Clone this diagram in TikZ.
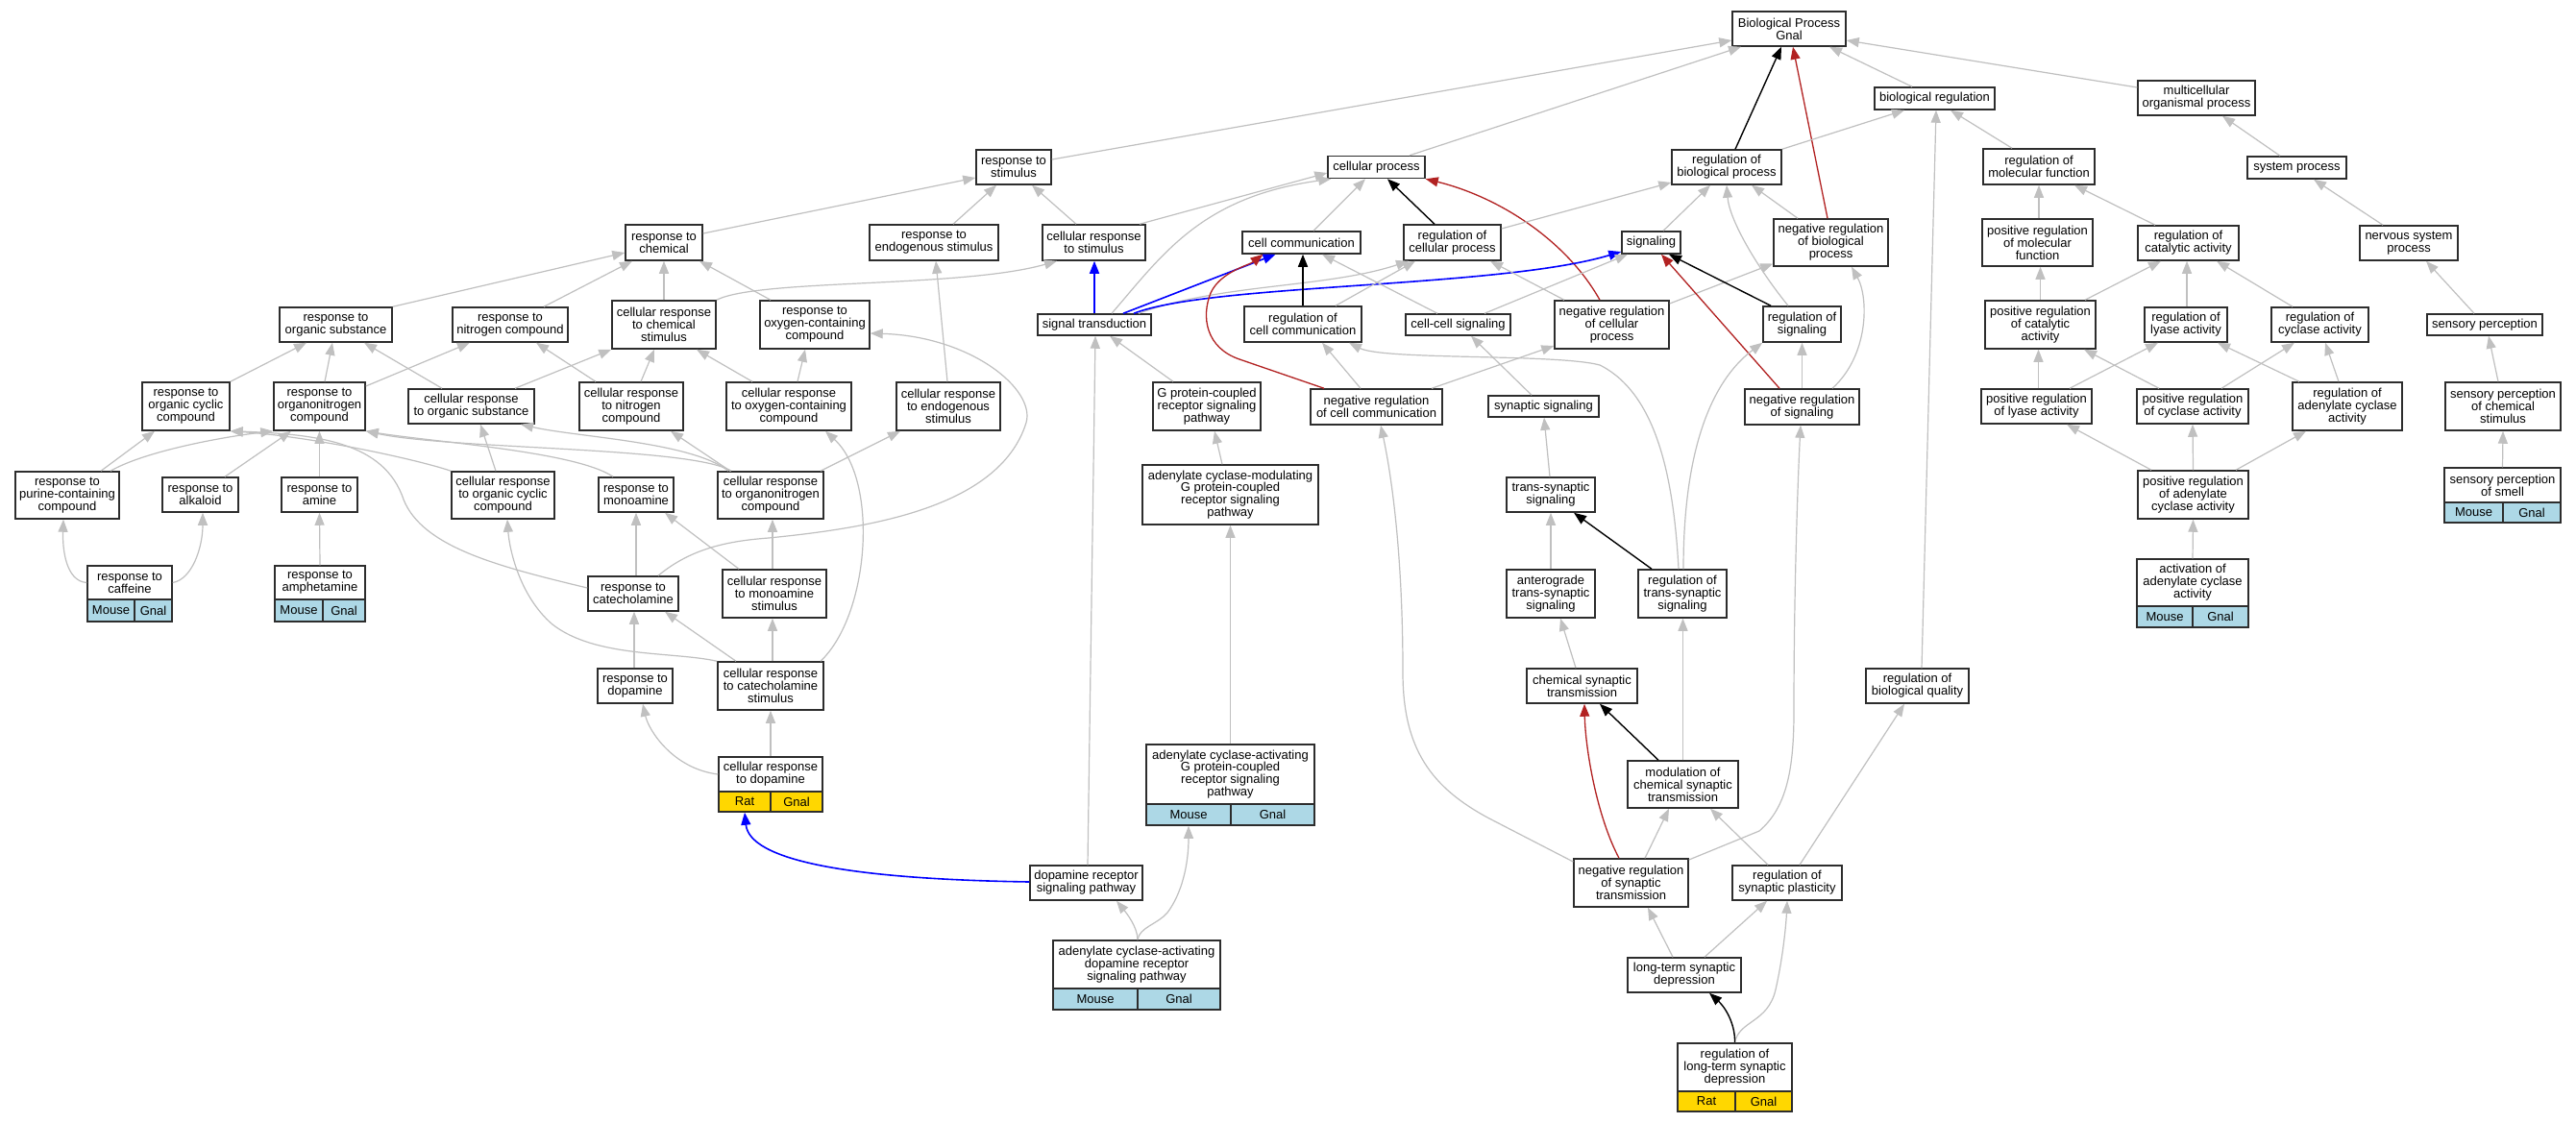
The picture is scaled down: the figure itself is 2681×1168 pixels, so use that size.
\documentclass[tikz,border=0pt]{standalone}
\usepackage{fontspec}
\setmainfont{Liberation Sans}
\usetikzlibrary{arrows.meta}
\definecolor{eg}{RGB}{192,192,192}
\definecolor{fb}{RGB}{178,34,34}
\definecolor{lb}{RGB}{173,216,230}
\definecolor{gd}{RGB}{255,215,0}
\definecolor{bd}{RGB}{45,45,45}
\begin{document}
\begin{tikzpicture}[x=1pt,y=-1pt,
 box/.style={draw=bd, line width=1.5pt, fill=white, inner sep=0pt, align=center, rectangle, font=\fontsize{13}{12.9}\selectfont},
 sp/.style={box, fill=lb},
 spy/.style={box, fill=gd},
 ed/.style={draw=eg, line width=1.2pt, -{Triangle[length=13pt,width=10pt]}},
 edk/.style={ed, draw=black, line width=1.4pt},
 edr/.style={ed, draw=fb, line width=1.3pt},
 edb/.style={ed, draw=blue, line width=1.6pt},
]
\fill[white] (0,0) rectangle (2681,1168);
\useasboundingbox (0,0) rectangle (2681,1168);

% ---------------- nodes
\node[box,minimum width=118pt,minimum height=36pt] (bp) at (1862,30) {Biological Process\\Gnal};
\node[box,minimum width=125pt,minimum height=23pt] (bioreg) at (2013.5,102.5) {biological regulation};
\node[box,minimum width=122pt,minimum height=36pt] (multi) at (2286,102) {multicellular\\organismal process};
\node[box,minimum width=78pt,minimum height=36pt] (rstim) at (1055,174) {response to\\stimulus};
\node[box,minimum width=101pt,minimum height=23pt] (cellproc) at (1432.5,174) {cellular process};
\node[box,minimum width=114pt,minimum height=36pt] (regbio) at (1797,174) {regulation of\\biological process};
\node[box,minimum width=116pt,minimum height=37pt] (regmol) at (2122,173.5) {regulation of\\molecular function};
\node[box,minimum width=103pt,minimum height=23pt] (sysproc) at (2390.5,174.5) {system process};
\node[box,minimum width=80pt,minimum height=37pt] (rchem) at (691,252.5) {response to\\chemical};
\node[box,minimum width=134pt,minimum height=37pt] (rendo) at (972,252.5) {response to\\endogenous stimulus};
\node[box,minimum width=107pt,minimum height=37pt] (crstim) at (1138.5,252.5) {cellular response\\to stimulus};
\node[box,minimum width=123pt,minimum height=23pt] (cellcomm) at (1354.5,252.5) {cell communication};
\node[box,minimum width=101pt,minimum height=37pt] (regcell) at (1511.5,252.5) {regulation of\\cellular process};
\node[box,minimum width=61pt,minimum height=23pt] (signaling) at (1718.5,252.5) {signaling};
\node[box,minimum width=119pt,minimum height=49pt] (negbio) at (1905.5,252.5) {negative regulation\\of biological\\process};
\node[box,minimum width=115pt,minimum height=49pt] (posmol) at (2120.5,252.5) {positive regulation\\of molecular\\function};
\node[box,minimum width=105pt,minimum height=36pt] (regcat) at (2277.5,253) {regulation of\\catalytic activity};
\node[box,minimum width=102pt,minimum height=36pt] (nervous) at (2507,253) {nervous system\\process};
\node[box,minimum width=117pt,minimum height=36pt] (rorgsub) at (349.5,338) {response to\\organic substance};
\node[box,minimum width=120pt,minimum height=36pt] (rnitro) at (531,338) {response to\\nitrogen compound};
\node[box,minimum width=108pt,minimum height=50pt] (crchem) at (691,338) {cellular response\\to chemical\\stimulus};
\node[box,minimum width=114pt,minimum height=50pt] (roxy) at (848,338) {response to\\oxygen-containing\\compound};
\node[box,minimum width=118pt,minimum height=22pt] (sigtrans) at (1139,338) {signal transduction};
\node[box,minimum width=122pt,minimum height=37pt] (regcellcomm) at (1356,337.5) {regulation of\\cell communication};
\node[box,minimum width=109pt,minimum height=22pt] (cellcell) at (1517.5,338) {cell-cell signaling};
\node[box,minimum width=119pt,minimum height=50pt] (negcell) at (1677.5,338) {negative regulation\\of cellular\\process};
\node[box,minimum width=81pt,minimum height=37pt] (regsig) at (1875.5,337.5) {regulation of\\signaling};
\node[box,minimum width=115pt,minimum height=50pt] (poscat) at (2123.5,338) {positive regulation\\of catalytic\\activity};
\node[box,minimum width=86pt,minimum height=36pt] (reglyase) at (2275,338) {regulation of\\lyase activity};
\node[box,minimum width=101pt,minimum height=36pt] (regcyc) at (2414.5,338) {regulation of\\cyclase activity};
\node[box,minimum width=120pt,minimum height=22pt] (sensory) at (2586,338) {sensory perception};
\node[box,minimum width=91pt,minimum height=50pt] (rorgcyc) at (193.5,423) {response to\\organic cyclic\\compound};
\node[box,minimum width=95pt,minimum height=50pt] (rorgnit) at (332.5,423) {response to\\organonitrogen\\compound};
\node[box,minimum width=131pt,minimum height=36pt] (crorgsub) at (490.5,423) {cellular response\\to organic substance};
\node[box,minimum width=108pt,minimum height=50pt] (crnitro) at (657,423) {cellular response\\to nitrogen\\compound};
\node[box,minimum width=130pt,minimum height=50pt] (croxy) at (821,423) {cellular response\\to oxygen-containing\\compound};
\node[box,minimum width=108pt,minimum height=50pt] (crendo) at (987,423) {cellular response\\to endogenous\\stimulus};
\node[box,minimum width=112pt,minimum height=50pt] (gpcr) at (1256,423) {G protein-coupled\\receptor signaling\\pathway};
\node[box,minimum width=137pt,minimum height=37pt] (negcellcomm) at (1432.5,423.5) {negative regulation\\of cell communication};
\node[box,minimum width=115pt,minimum height=22pt] (synsig) at (1606.5,423) {synaptic signaling};
\node[box,minimum width=119pt,minimum height=37pt] (negsig) at (1875.5,423.5) {negative regulation\\of signaling};
\node[box,minimum width=115pt,minimum height=36pt] (poslyase) at (2119.5,423) {positive regulation\\of lyase activity};
\node[box,minimum width=116pt,minimum height=36pt] (poscyc) at (2282,423) {positive regulation\\of cyclase activity};
\node[box,minimum width=114pt,minimum height=50pt] (regadcyc) at (2443,423) {regulation of\\adenylate cyclase\\activity};
\node[box,minimum width=120pt,minimum height=50pt] (senschem) at (2605,423) {sensory perception\\of chemical\\stimulus};
\node[box,minimum width=108pt,minimum height=49pt] (rpurine) at (70,515.5) {response to\\purine-containing\\compound};
\node[box,minimum width=79pt,minimum height=36pt] (ralk) at (208.5,515) {response to\\alkaloid};
\node[box,minimum width=79pt,minimum height=36pt] (ramine) at (332.5,515) {response to\\amine};
\node[box,minimum width=107pt,minimum height=49pt] (crorgcyc) at (523.5,515.5) {cellular response\\to organic cyclic\\compound};
\node[box,minimum width=78pt,minimum height=36pt] (rmono) at (662,515) {response to\\monoamine};
\node[box,minimum width=110pt,minimum height=49pt] (crorgnit) at (802,515.5) {cellular response\\to organonitrogen\\compound};
\node[box,minimum width=183pt,minimum height=62pt] (acmod) at (1280.5,515) {adenylate cyclase-modulating\\G protein-coupled\\receptor signaling\\pathway};
\node[box,minimum width=92pt,minimum height=36pt] (transsyn) at (1614,515) {trans-synaptic\\signaling};
\node[box,minimum width=115pt,minimum height=50pt] (posadcyc) at (2282.5,515) {positive regulation\\of adenylate\\cyclase activity};
\node[box,minimum width=94pt,minimum height=36pt] (rcatech) at (659,618) {response to\\catecholamine};
\node[box,minimum width=108pt,minimum height=50pt] (crmono) at (806,618) {cellular response\\to monoamine\\stimulus};
\node[box,minimum width=92pt,minimum height=50pt] (antero) at (1614,618) {anterograde\\trans-synaptic\\signaling};
\node[box,minimum width=92pt,minimum height=50pt] (regtrans) at (1751,618) {regulation of\\trans-synaptic\\signaling};
\node[box,minimum width=78pt,minimum height=36pt] (rdopa) at (661,714) {response to\\dopamine};
\node[box,minimum width=110pt,minimum height=50pt] (crcatech) at (802,714) {cellular response\\to catecholamine\\stimulus};
\node[box,minimum width=115pt,minimum height=36pt] (chemsyn) at (1646.5,714) {chemical synaptic\\transmission};
\node[box,minimum width=107pt,minimum height=36pt] (regqual) at (1995.5,714) {regulation of\\biological quality};
\node[box,minimum width=115pt,minimum height=49pt] (modchem) at (1751.5,816.5) {modulation of\\chemical synaptic\\transmission};
\node[box,minimum width=117pt,minimum height=36pt] (drsp) at (1130.5,919) {dopamine receptor\\signaling pathway};
\node[box,minimum width=119pt,minimum height=50pt] (negsyn) at (1697.5,919) {negative regulation\\of synaptic\\transmission};
\node[box,minimum width=114pt,minimum height=36pt] (regplast) at (1860,919) {regulation of\\synaptic plasticity};
\node[box,minimum width=118pt,minimum height=36pt] (ltd) at (1753,1015) {long-term synaptic\\depression};

% annotated terms
\node[box,minimum width=121pt,minimum height=36pt] (smell) at (2604.5,505) {sensory perception\\of smell};
\node[sp,minimum width=61pt,minimum height=21pt] (smell-m) at (2574.5,533.5) {Mouse};
\node[sp,minimum width=60pt,minimum height=21pt] (smell-g) at (2635,533.5) {Gnal};

\node[box,minimum width=88pt,minimum height=35pt] (caf) at (135,606.5) {response to\\caffeine};
\node[sp,minimum width=49pt,minimum height=23pt] (caf-m) at (115.5,635.5) {Mouse};
\node[sp,minimum width=39pt,minimum height=23pt] (caf-g) at (159.5,635.5) {Gnal};

\node[box,minimum width=94pt,minimum height=35pt] (amph) at (333,606.5) {response to\\amphetamine};
\node[sp,minimum width=50pt,minimum height=23pt] (amph-m) at (311,635.5) {Mouse};
\node[sp,minimum width=44pt,minimum height=23pt] (amph-g) at (358,635.5) {Gnal};

\node[box,minimum width=116pt,minimum height=49pt] (activ) at (2282,606.5) {activation of\\adenylate cyclase\\activity};
\node[sp,minimum width=58pt,minimum height=22pt] (activ-m) at (2253,642) {Mouse};
\node[sp,minimum width=58pt,minimum height=22pt] (activ-g) at (2311,642) {Gnal};

\node[box,minimum width=108pt,minimum height=36pt] (crdopa) at (802,806) {cellular response\\to dopamine};
\node[spy,minimum width=54pt,minimum height=21pt] (crdopa-r) at (775,834.5) {Rat};
\node[spy,minimum width=54pt,minimum height=21pt] (crdopa-g) at (829,834.5) {Gnal};

\node[box,minimum width=175pt,minimum height=62pt] (acgpcr) at (1280.5,806) {adenylate cyclase-activating\\G protein-coupled\\receptor signaling\\pathway};
\node[sp,minimum width=88pt,minimum height=22pt] (acgpcr-m) at (1237,848) {Mouse};
\node[sp,minimum width=87pt,minimum height=22pt] (acgpcr-g) at (1324.5,848) {Gnal};

\node[box,minimum width=174pt,minimum height=50pt] (acdrsp) at (1183,1004) {adenylate cyclase-activating\\dopamine receptor\\signaling pathway};
\node[sp,minimum width=88pt,minimum height=22pt] (acdrsp-m) at (1140,1040) {Mouse};
\node[sp,minimum width=86pt,minimum height=22pt] (acdrsp-g) at (1227,1040) {Gnal};

\node[box,minimum width=119pt,minimum height=50pt] (regltd) at (1805.5,1111) {regulation of\\long-term synaptic\\depression};
\node[spy,minimum width=60pt,minimum height=21pt] (regltd-r) at (1776,1146.5) {Rat};
\node[spy,minimum width=59pt,minimum height=21pt] (regltd-g) at (1835.5,1146.5) {Gnal};

% ---------------- edges
\draw[ed] ([yshift=8pt]rstim.east) -- ([yshift=-12pt]bp.west);
\draw[ed] ([xshift=34.5pt]cellproc.north) -- ([xshift=-50pt]bp.south);
\draw[edk] ([xshift=9pt]regbio.north) -- ([xshift=-8pt]bp.south);
\draw[edr] ([xshift=-3.5pt]negbio.north) -- ([xshift=4pt]bp.south);
\draw[ed] ([xshift=-23.5pt]bioreg.north) -- ([xshift=42pt]bp.south);
\draw[ed] ([yshift=11pt]multi.west) -- ([yshift=-12pt]bp.east);
\draw[ed] (regbio.north east) -- ([xshift=-31.5pt]bioreg.south);
\draw[ed] ([xshift=-28pt]regmol.north) -- ([xshift=16.5pt]bioreg.south);
\draw[ed] ([xshift=4.5pt]regqual.north) -- ([xshift=1.5pt]bioreg.south);
\draw[ed] ([xshift=-17.5pt]sysproc.north) -- ([xshift=27pt]multi.south);
\draw[ed] ([xshift=-27pt]nervous.north) -- ([xshift=17.5pt]sysproc.south);
\draw[ed] ([xshift=-11pt]sensory.north) -- ([xshift=18pt]nervous.south);
\draw[ed] ([xshift=-5pt]senschem.north) -- ([xshift=4pt]sensory.south);
\draw[ed] (smell.north) -- (senschem.south);
\draw[ed] ([xshift=1.5pt]posmol.north) -- (regmol.south);
\draw[ed] ([xshift=-34.5pt]regcat.north) -- ([xshift=37pt]regmol.south);
\draw[ed] (poscat.north) -- ([xshift=3pt]posmol.south);
\draw[ed] ([xshift=46.5pt]poscat.north) -- ([xshift=-28.5pt]regcat.south);
\draw[ed] ([xshift=1pt]reglyase.north) -- ([xshift=-1.5pt]regcat.south);
\draw[ed] ([xshift=-28.5pt]regcyc.north) -- ([xshift=29.5pt]regcat.south);
\draw[ed] ([xshift=2pt]poslyase.north) -- ([xshift=-2pt]poscat.south);
\draw[ed] ([xshift=-35pt]poscyc.north) -- ([xshift=45.5pt]poscat.south);
\draw[ed] ([xshift=34.5pt]poslyase.north) -- ([xshift=-29pt]reglyase.south);
\draw[ed] ([xshift=-50pt]regadcyc.north) -- ([xshift=33pt]reglyase.south);
\draw[ed] ([xshift=30pt]poscyc.north) -- ([xshift=-26.5pt]regcyc.south);
\draw[ed] ([xshift=-9pt]regadcyc.north) -- ([xshift=5.5pt]regcyc.south);
\draw[ed] ([xshift=-43.5pt]posadcyc.north) -- ([xshift=31.5pt]poslyase.south);
\draw[ed] (posadcyc.north) -- (poscyc.south);
\draw[ed] ([xshift=44.5pt]posadcyc.north) -- ([xshift=-43pt]regadcyc.south);
\draw[ed] (activ.north) -- (posadcyc.south);

\draw[ed] ([yshift=9.5pt]rchem.east) -- ([yshift=-11pt]rstim.west);
\draw[ed] ([xshift=20pt]rendo.north) -- ([xshift=-18pt]rstim.south);
\draw[ed] ([xshift=-18.5pt]crstim.north) -- ([xshift=19pt]rstim.south);
\draw[ed] ([xshift=47.5pt]crstim.north) -- ([yshift=-6pt]cellproc.west);
\draw[ed] ([xshift=18pt]sigtrans.north) .. controls (1210,265) and (1250,205) .. ([xshift=4pt]cellproc.south west);
\draw[ed] ([xshift=12.5pt]cellcomm.north) -- ([xshift=-11.5pt]cellproc.south);
\draw[edk] ([xshift=-18.5pt]regcell.north) -- ([xshift=11.5pt]cellproc.south);
\draw[edr] ([xshift=-12.5pt]negcell.north) .. controls (1630,250) and (1560,205) .. (cellproc.south east);
\draw[ed] ([yshift=14.5pt]regcell.east) -- ([yshift=-16pt]regbio.west);
\draw[ed] ([xshift=12.5pt]signaling.north) -- ([xshift=-17pt]regbio.south);
\draw[ed] ([xshift=-14.5pt]regsig.north) .. controls (1830,280) and (1800,230) .. (regbio.south);
\draw[ed] ([xshift=-34.5pt]negbio.north) -- ([xshift=26pt]regbio.south);
\draw[ed] ([yshift=22pt]negcell.east) -- ([yshift=-22pt]negbio.west);
\draw[ed] ([xshift=31.5pt]negsig.north) .. controls (1945,370) and (1945,310) .. ([xshift=21.5pt]negbio.south);
\draw[ed] ([xshift=46pt]sigtrans.north) .. controls (1270,295) and (1380,300) .. ([xshift=-45.5pt]regcell.south);
\draw[edb] ([xshift=41pt]sigtrans.north) .. controls (1260,295) and (1560,300) .. ([yshift=-9.5pt]signaling.west);
\draw[ed] ([xshift=27.5pt]cellcell.north) -- ([xshift=-24.5pt]signaling.south);
\draw[edk] ([xshift=-32.5pt]regsig.north) -- ([xshift=18.5pt]signaling.south);
\draw[edr] ([xshift=-23.5pt]negsig.north) -- ([xshift=10.5pt]signaling.south);
\draw[edb] ([xshift=30pt]sigtrans.north) -- ([xshift=-27pt]cellcomm.south);
\draw[edk] (regcellcomm.north) -- (regcellcomm.north |- cellcomm.south);
\draw[ed] ([xshift=-21.5pt]cellcell.north) -- ([xshift=21.5pt]cellcomm.south);
\draw[edr] ([xshift=-54.5pt]negcellcomm.north) -- (1290,374) .. controls (1255,362) and (1250,330) .. (1260,305) .. controls (1270,283) and (1300,276) .. ([xshift=-40pt]cellcomm.south);
\draw[edb] (sigtrans.north) -- (sigtrans.north |- crstim.south);
\draw[ed] (crchem.north east) .. controls (790,290) and (1000,300) .. ([xshift=-38.5pt]crstim.south);
\draw[ed] ([xshift=34pt]regcellcomm.north) -- ([xshift=-38.5pt]regcell.south);
\draw[ed] ([xshift=-49.5pt]negcell.north) -- ([xshift=39.5pt]regcell.south);
\draw[ed] ([xshift=-16.5pt]negcellcomm.north) -- ([xshift=20pt]regcellcomm.south);
\draw[ed] ([xshift=-4pt]regtrans.north) .. controls (1742,500) and (1725,410) .. (1665,380) .. controls (1620,368) and (1440,375) .. ([xshift=48pt]regcellcomm.south);
\draw[ed] ([xshift=57.5pt]negcellcomm.north) -- ([yshift=-22pt]negcell.west);
\draw[ed] ([xshift=-12.5pt]synsig.north) -- ([xshift=13.5pt]cellcell.south);
\draw[ed] (negsig.north) -- (regsig.south);
\draw[ed] ([xshift=1pt]regtrans.north) .. controls (1752,450) and (1790,390) .. (regsig.south west);
\draw[ed] ([yshift=22pt]negsyn.west) -- (1550,852) .. controls (1490,820) and (1460,780) .. (1460,700) .. controls (1460,560) and (1445,480) .. ([xshift=4.5pt]negcellcomm.south);
\draw[ed] ([yshift=24pt]negsyn.east) -- (1831,865) .. controls (1860,840) and (1867,800) .. (1867,740) .. controls (1867,600) and (1872,480) .. ([xshift=-1.5pt]negsig.south);
\draw[ed] ([xshift=-1pt]transsyn.north) -- ([xshift=0.5pt]synsig.south);
\draw[ed] (antero.north) -- (transsyn.south);
\draw[edk] ([xshift=-32pt]regtrans.north) -- ([xshift=24pt]transsyn.south);
\draw[ed] ([xshift=-6.5pt]chemsyn.north) -- ([xshift=10pt]antero.south);
\draw[ed] (modchem.north) -- (modchem.north |- regtrans.south);
\draw[edr] ([xshift=-12.5pt]negsyn.north) .. controls (1662,850) and (1650,780) .. ([xshift=2.5pt]chemsyn.south);
\draw[edk] ([xshift=-25.5pt]modchem.north) -- ([xshift=18.5pt]chemsyn.south);
\draw[ed] ([xshift=14.5pt]negsyn.north) -- ([xshift=-14.5pt]modchem.south);
\draw[ed] ([xshift=-20pt]regplast.north) -- ([xshift=28.5pt]modchem.south);
\draw[ed] ([xshift=13pt]regplast.north) -- ([xshift=-13.5pt]regqual.south);
\draw[ed] ([xshift=-12pt]ltd.north) -- ([xshift=17.5pt]negsyn.south);
\draw[ed] ([xshift=21pt]ltd.north) -- ([xshift=-21pt]regplast.south);
\draw[ed] (regltd.north) .. controls (1810,1062) and (1840,1065) .. (1848,1030) .. controls (1856,995) and (1859,960) .. (regplast.south);
\draw[edk] (regltd.north) .. controls (1806,1065) and (1795,1048) .. ([xshift=26pt]ltd.south);

\draw[ed] (rorgsub.north east) -- ([yshift=-10.5pt]rchem.west);
\draw[ed] ([xshift=35pt]rnitro.north) -- ([xshift=-33pt]rchem.south);
\draw[ed] (crchem.north) -- (rchem.south);
\draw[ed] ([xshift=-46pt]roxy.north) -- ([xshift=37pt]rchem.south);
\draw[ed] (rorgcyc.north east) -- ([xshift=-30.5pt]rorgsub.south);
\draw[ed] ([xshift=5.5pt]rorgnit.north) -- ([xshift=-3.5pt]rorgsub.south);
\draw[ed] ([xshift=-30.5pt]crorgsub.north) -- ([xshift=29.5pt]rorgsub.south);
\draw[ed] ([yshift=21pt]rorgnit.east) -- ([xshift=-42pt]rnitro.south);
\draw[ed] ([xshift=-37pt]crnitro.north) -- ([xshift=27pt]rnitro.south);
\draw[ed] ([xshift=45.5pt]crorgsub.north) -- (crchem.south west);
\draw[ed] ([xshift=10pt]crnitro.north) -- ([xshift=-10pt]crchem.south);
\draw[ed] ([xshift=-38pt]croxy.north) -- ([xshift=34pt]crchem.south);
\draw[ed] ([xshift=9pt]croxy.north) -- ([xshift=-10pt]roxy.south);
\draw[ed] ([xshift=26pt]rcatech.north) .. controls (720,570) and (760,563) .. (800,560) .. controls (900,550) and (1040,530) .. (1068,440) .. controls (1078,405) and (1010,350) .. ([yshift=-9pt]roxy.east);
\draw[ed] ([xshift=-1pt]crendo.north) -- ([xshift=2pt]rendo.south);
\draw[ed] ([xshift=35pt]rpurine.north) -- ([xshift=-32.5pt]rorgcyc.south);
\draw[ed] (crorgcyc.north west) .. controls (440,480) and (330,455) .. (rorgcyc.south east);
\draw[ed] ([yshift=6pt]rcatech.west) .. controls (520,590) and (440,570) .. (420,520) .. controls (400,460) and (330,452) .. (rorgcyc.south east);
\draw[ed] ([xshift=45pt]rpurine.north) .. controls (150,470) and (230,455) .. (rorgnit.south west);
\draw[ed] ([xshift=25.5pt]ralk.north) -- ([xshift=-29.5pt]rorgnit.south);
\draw[ed] (ramine.north) -- (rorgnit.south);
\draw[ed] ([xshift=-41pt]crorgnit.north) .. controls (720,465) and (470,468) .. (rorgnit.south east);
\draw[ed] ([xshift=-24pt]rmono.north) .. controls (600,470) and (450,460) .. (rorgnit.south east);
\draw[ed] ([xshift=-7.5pt]crorgcyc.north) -- ([xshift=9.5pt]crorgsub.south);
\draw[ed] ([xshift=-44pt]crorgnit.north) .. controls (720,460) and (600,455) .. ([xshift=51.5pt]crorgsub.south);
\draw[ed] ([xshift=-42pt]crorgnit.north) -- ([xshift=41pt]crnitro.south);
\draw[ed] ([xshift=52pt]crorgnit.north) -- ([xshift=-50pt]crendo.south);
\draw[ed] (crcatech.north west) .. controls (700,678) and (620,685) .. (575,650) .. controls (540,620) and (530,570) .. ([xshift=4.5pt]crorgcyc.south);
\draw[ed] ([xshift=3pt]rcatech.north) -- (rmono.south);
\draw[ed] ([xshift=-37pt]crmono.north) -- ([xshift=30pt]rmono.south);
\draw[ed] ([xshift=-2pt]crmono.north) -- ([xshift=2pt]crorgnit.south);
\draw[ed] ([xshift=52pt]crcatech.north) .. controls (905,640) and (915,500) .. ([xshift=38pt]croxy.south);
\draw[ed] ([xshift=-1pt]rdopa.north) -- ([xshift=1pt]rcatech.south);
\draw[ed] ([xshift=-36pt]crcatech.north) -- ([xshift=33pt]rcatech.south);
\draw[ed] ([xshift=2pt]crcatech.north) -- ([xshift=-2pt]crmono.south);
\draw[ed] (crdopa.west) .. controls (700,800) and (675,760) .. ([xshift=8pt]rdopa.south);
\draw[ed] (crdopa.north) -- (crcatech.south);
\draw[edb] ([yshift=1pt]drsp.west) .. controls (880,915) and (780,895) .. (crdopa-r.south);
\draw[ed] (caf.west) .. controls (68,605) and (65,570) .. ([xshift=-4pt]rpurine.south);
\draw[ed] (caf.east) .. controls (200,603) and (211,570) .. ([xshift=2.5pt]ralk.south);
\draw[ed] (amph.north) -- (ramine.south);

\draw[ed] ([xshift=-35pt]gpcr.north) -- ([xshift=16pt]sigtrans.south);
\draw[ed] ([xshift=1.5pt]drsp.north) -- ([xshift=1pt]sigtrans.south);
\draw[ed] ([xshift=-8.5pt]acmod.north) -- ([xshift=8pt]gpcr.south);
\draw[ed] (acgpcr.north) -- (acmod.south);
\draw[ed] ([xshift=1pt]acdrsp.north) .. controls (1184,965) and (1172,950) .. ([xshift=31.5pt]drsp.south);
\draw[ed] ([xshift=1pt]acdrsp.north) .. controls (1186,965) and (1205,962) .. (1215,950) .. controls (1230,930) and (1237,900) .. (acgpcr-m.south);
\end{tikzpicture}
\end{document}
